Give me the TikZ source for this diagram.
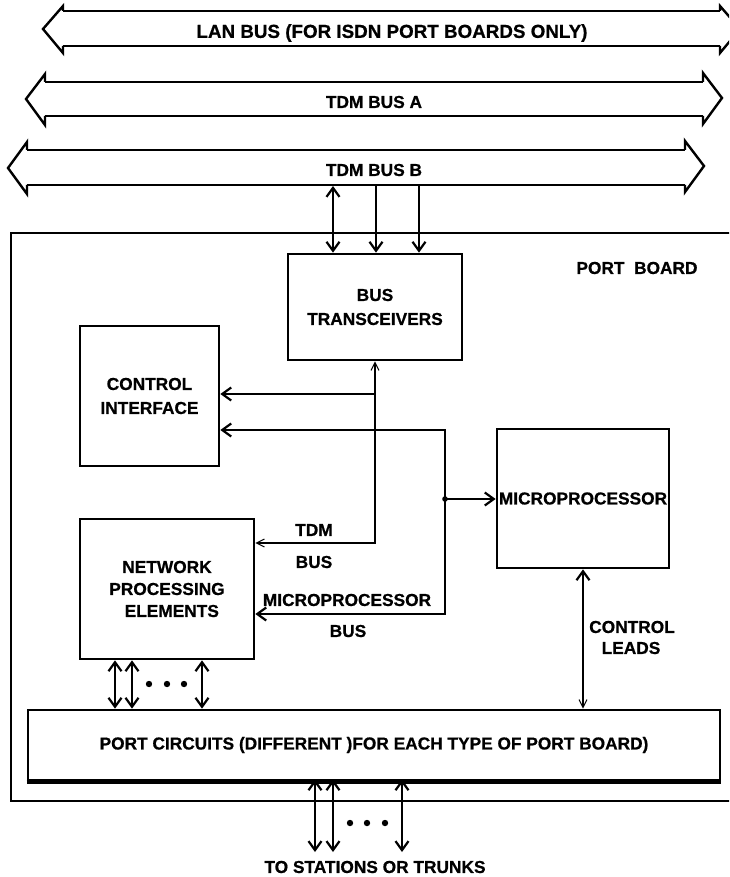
\documentclass[tikz,border=0pt]{standalone}
\usepackage{fontspec}
\setmainfont{Liberation Sans}[BoldFeatures={FakeBold=0.7}]
\usetikzlibrary{arrows.meta,calc}
\begin{document}
\begin{tikzpicture}[x=1pt,y=-1pt,
  lbl/.style={font=\fontsize{17.3}{24}\selectfont\bfseries, inner sep=0pt, align=center},
  box/.style={draw, line width=2.7pt, inner sep=0pt, font=\fontsize{17.3}{24}\selectfont\bfseries, align=center},
  bus/.style={line width=2.4pt, line join=miter},
  conn/.style={line width=2pt},
  hd/.tip={Straight Barb[length=9pt,width=13pt,line width=2.2pt]},
  thn/.tip={Straight Barb[length=8pt,width=8pt,line width=1pt]},
]
\useasboundingbox (0,0) rectangle (729,877);
\clip (0,0) rectangle (729,877);

% ---- buses ----
% LAN bus
\draw[bus] (63,11) -- (720,11);
\draw[bus] (63,46) -- (720,46);
\draw[bus] (63,11) -- (63,6) -- (43,29) -- (63,53) -- (63,46);
\draw[bus] (720,11) -- (720,6) -- (740,29) -- (720,53) -- (720,46);
\node[lbl, font=\fontsize{18.8}{24}\selectfont\bfseries] (lan) at (392,33) {LAN BUS (FOR ISDN PORT BOARDS ONLY)};
% TDM bus A
\draw[bus] (45,82) -- (703,82);
\draw[bus] (45,116) -- (703,116);
\draw[bus] (45,82) -- (45,74) -- (26,99) -- (45,125) -- (45,116);
\draw[bus] (703,82) -- (703,73) -- (722,98) -- (703,124) -- (703,116);
\node[lbl] (tdma) at (374,102) {TDM BUS A};
% TDM bus B
\draw[bus] (27,150) -- (685,150);
\draw[bus] (27,185) -- (685,185);
\draw[bus] (27,150) -- (27,142) -- (8,168) -- (27,194) -- (27,185);
\draw[bus] (685,150) -- (685,141) -- (704,166) -- (685,192) -- (685,185);
\node[lbl] (tdmb) at (374,170) {TDM BUS B};

% ---- port board ----
\draw[line width=2.4pt] (740,233) -- (11,233) -- (11,801) -- (740,801);
\node[lbl] (pb) at (637,268) {PORT\ \ BOARD};

% ---- boxes ----
\node[box, minimum width=174pt, minimum height=106pt] (bt) at (375,307) {BUS\\TRANSCEIVERS};
\node[box, minimum width=139pt, minimum height=140pt] (ci) at (149.5,396) {CONTROL\\INTERFACE};
\node[box, minimum width=172pt, minimum height=139pt] (mp) at (583,498.5) {MICROPROCESSOR};
\node[box, minimum width=174pt, minimum height=140pt, font=\fontsize{17.3}{22}\selectfont\bfseries] (npe) at (167,589) {NETWORK\\PROCESSING\\\ \ ELEMENTS};
\node[box, minimum width=692pt, minimum height=70pt] (pc) at (374,745) {PORT CIRCUITS (DIFFERENT )FOR EACH TYPE OF PORT BOARD)};
\draw[line width=4pt] ([yshift=-1pt]pc.south west) -- ([yshift=-1pt]pc.south east);

% ---- TDM bus B to transceivers ----
\coordinate (tb1) at (333,186);
\coordinate (tb2) at (376,186);
\coordinate (tb3) at (419,186);
\draw[conn, hd-hd] (tb1) -- (tb1 |- bt.north);
\draw[conn, -hd] (tb2) -- (tb2 |- bt.north);
\draw[conn, -hd] (tb3) -- (tb3 |- bt.north);

% ---- internal TDM bus ----
\coordinate (tj) at (375,543);
\coordinate (tci) at (375,394);
\draw[conn, thn-thn] (bt.south) -- (tj) -- (tj -| npe.east);
\draw[conn, -hd] (tci) -- (tci -| ci.east);
\node[lbl] (ltdm) at (314,530) {TDM};
\node[lbl] (ltdmbus) at (314,562) {BUS};

% ---- microprocessor bus ----
\coordinate (mt) at (445,430);
\coordinate (mb) at (445,614);
\coordinate (mj) at (445,499);
\draw[conn, hd-hd] (mt -| ci.east) -- (mt) -- (mb) -- (mb -| npe.east);
\fill (mj) circle (2.8pt);
\draw[conn, -hd] (mj) -- (mj -| mp.west);
\node[lbl] (lmp) at (347,600) {MICROPROCESSOR};
\node[lbl] (lmpbus) at (348,631) {BUS};

% ---- control leads ----
\draw[line width=1.6pt, hd-thn] (mp.south) -- (mp.south |- pc.north);
\node[lbl] (lcl) at (632,627) {CONTROL};
\node[lbl] (lcl2) at (631,648) {LEADS};

% ---- NPE to port circuits ----
\coordinate (n1) at (115,0);
\coordinate (n2) at (132,0);
\coordinate (n3) at (202,0);
\foreach \c in {n1,n2,n3}
  \draw[conn, hd-hd] (npe.south -| \c) -- (pc.north -| \c);
\foreach \x in {149,167,184}
  \fill (\x,684) circle (3.2pt);

% ---- port circuits to stations ----
\coordinate (s1) at (315,852);
\coordinate (s2) at (333,852);
\coordinate (s3) at (402,852);
\foreach \c in {s1,s2,s3}
  \draw[conn, hd-hd] ([yshift=2pt]pc.south -| \c) -- (\c);
\foreach \x in {350,367,385}
  \fill (\x,823) circle (3.2pt);
\node[lbl] (ts) at (375,867) {TO STATIONS OR TRUNKS};
\end{tikzpicture}
\end{document}
